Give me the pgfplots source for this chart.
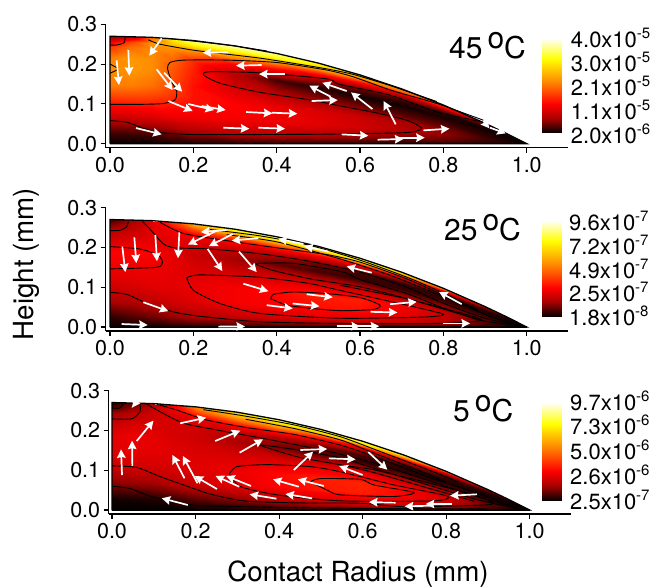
\documentclass[border=0pt]{standalone}
\usepackage{fontspec}
\setmainfont{TeX Gyre Heros}
\usepackage{pgfplots}
\usepackage{pgfplotstable}
\pgfplotsset{compat=1.18}
\usetikzlibrary{arrows.meta}
\pgfplotstableread{
x y a b c
0 0 0 2 0
.05 0 0 2 0
.1 0 0 2 0
.15 0 2 3 0
.2 0 2 4 1
.3 0 2 5 2
.4 0 3 6 4
.5 0 3 6 6
.6 0 3 5 8
.7 0 2 4 6
.8 0 2 3 4
.9 0 1 1 1
1 0 0 0 0
0 .027 8 6 2
.05 .0269 8 10 3
.1 .0267 10 14 4
.15 .0264 14 18 6
.2 .0259 20 22 10
.3 .0246 24 26 16
.4 .0227 24 30 22
.5 .0203 22 32 28
.6 .0173 18 32 32
.7 .0138 14 28 28
.8 .0097 12 22 22
.9 .0051 5 8 8
1 0 0 0 0
0 .0675 28 22 16
.05 .0673 30 24 18
.1 .0668 32 26 20
.15 .066 36 30 24
.2 .0648 36 33 28
.3 .0614 38 38 34
.4 .0567 37 40 40
.5 .0506 34 42 43
.6 .0432 30 42 44
.7 .0344 24 36 40
.8 .0243 18 28 30
.9 .0128 8 10 12
1 0 0 0 0
0 .108 45 30 28
.05 .1077 46 32 30
.1 .1069 46 34 30
.15 .1056 44 34 31
.2 .1037 42 35 33
.3 .0983 40 38 36
.4 .0907 36 41 41
.5 .081 32 44 44
.6 .0691 28 44 45
.7 .0551 22 38 40
.8 .0389 15 28 28
.9 .0205 6 10 10
1 0 0 0 0
0 .1485 58 36 33
.05 .1481 58 36 34
.1 .147 56 36 34
.15 .1451 50 34 33
.2 .1426 42 32 32
.3 .1351 32 30 31
.4 .1247 24 30 32
.5 .1114 18 30 34
.6 .095 14 28 34
.7 .0757 10 24 26
.8 .0535 8 18 16
.9 .0282 4 8 6
1 0 0 0 0
0 .189 60 40 34
.05 .1885 62 40 36
.1 .1871 60 40 34
.15 .1847 52 34 31
.2 .1814 44 28 29
.3 .172 24 20 22
.4 .1588 8 12 14
.5 .1418 4 8 10
.6 .121 2 6 6
.7 .0964 2 6 5
.8 .068 3 6 5
.9 .0359 2 4 3
1 0 0 0 0
0 .216 58 32 28
.05 .2154 62 34 31
.1 .2138 60 35 31
.15 .2111 54 34 31
.2 .2074 46 32 30
.3 .1966 38 28 28
.4 .1814 32 22 22
.5 .162 22 14 14
.6 .1382 12 8 8
.7 .1102 8 6 5
.8 .0778 5 6 5
.9 .041 3 4 3
1 0 0 0 0
0 .243 48 24 20
.05 .2424 56 28 26
.1 .2406 60 34 30
.15 .2375 60 37 32
.2 .2333 60 40 38
.3 .2211 64 46 50
.4 .2041 62 50 54
.5 .1823 52 46 46
.6 .1555 42 38 34
.7 .1239 32 30 24
.8 .0875 22 18 14
.9 .0462 8 8 6
1 0 0 0 0
0 .2565 38 16 10
.05 .2558 50 24 18
.1 .2539 62 33 28
.15 .2507 70 42 38
.2 .2462 76 52 50
.3 .2334 80 66 64
.4 .2155 80 72 72
.5 .1924 72 72 72
.6 .1642 62 70 68
.7 .1308 52 62 56
.8 .0923 40 44 34
.9 .0487 15 14 10
1 0 0 0 0
0 .27 15 8 4
.05 .2693 30 20 12
.1 .2673 55 35 24
.15 .2639 78 48 40
.2 .2592 90 65 60
.3 .2457 95 84 76
.4 .2268 92 92 86
.5 .2025 80 92 90
.6 .1728 70 88 90
.7 .1377 62 80 82
.8 .0972 55 65 65
.9 .0513 15 20 20
1 0 0 0 0
}\grid
\pgfplotstableread{
x y m
0 0 0
1 0 0
0 15 20
1 15 20
0 30 40
1 30 40
0 55 60
1 55 60
0 78 80
1 78 80
0 100 100
1 100 100
}\cbar
\pgfplotstableread{
x y u v
.016 .2094 .0056 -.062
.044 .2353 .0024 -.0645
.124 .2647 -.0296 -.0436
.112 .1868 .0384 -.0519
.13 .1784 .0432 -.0477
.14 .1072 .0584 -.0251
.188 .0997 .0616 -.0151
.22 .0946 .0576 -.01
.3264 .0796 .0632 -.0034
.388 .0779 .0616 -.0025
.272 .0402 .0624 -.0025
.356 .0402 .064 -.0025
.0624 .0394 .0616 -.0159
.284 .2295 -.0616 -.0008
.364 .1977 -.0616 -.0017
.42 .175 -.0624 0
.5296 .1181 -.0512 .0276
.568 .1323 -.0584 .0209
.484 .1072 .0624 .0025
.6296 .0871 -.0512 .0419
.6856 .0486 -.0288 .0586
.556 .0235 .064 -.0034
.6424 .0101 .0616 .0017
.692 .0151 .0632 0
.752 .0335 .0624 .0042
.896 .057 .0144 -.0184
.912 .0402 .0376 -.0142
}\arra
\pgfplotstableread{
x y u v
.0296 .202 .0072 -.064
.0584 .2253 .0048 -.0648
.1088 .2311 .004 -.0657
.1664 .2377 -.0032 -.0648
.2344 .1962 .0352 -.0557
.3096 .1895 .0424 -.0515
.32 .1089 .06 -.0191
.376 .0549 .0624 -.0083
.4384 .059 .064 -.0067
.472 .0823 .0624 -.0075
.08 .0623 .06 -.0224
.028 .0075 .0624 -.0025
.26 .001 .064 .0005
.544 .002 .056 0
.586 .002 .06 0
.256 .2419 -.0688 -.0349
.28 .2436 -.062 -.005
.2944 .2336 -.0568 -.0303
.356 .2236 -.064 -.0067
.464 .2086 -.06 .0125
.524 .1895 -.0576 .0133
.628 .1364 -.06 .0158
.672 .0574 .064 .0058
.6256 .0382 .064 -.0017
.8 .0091 .064 0
.844 .0574 -.0544 .0308
}\arrb
\pgfplotstableread{
x y u v
.024 .0879 -.0024 .0645
.0488 .1106 -.0008 .0637
.0592 .1734 .04 .0511
.1632 .2178 .0624 .0142
.2472 .1734 .06 .026
.3056 .1441 .056 .0335
.1736 .0796 -.0288 .0586
.2048 .067 -.0352 .0687
.2512 .0528 -.0536 .0327
.3048 .0586 -.0568 .0268
.3328 .0603 -.0592 .0251
.3936 .0285 -.064 .0109
.4792 .0293 -.064 .0109
.1816 .0126 -.0624 .0168
.4472 .0586 -.0616 .0184
.5072 .0603 -.0624 .0168
.4352 .1005 .0464 .0461
.4512 .1508 .064 .0025
.5192 .1298 .064 -.0025
.6 .088 -.056 .0226
.6136 .1457 .0456 -.0444
.6792 .0184 -.064 .0017
.7672 .0109 -.0664 -.0017
.8136 .0151 -.0624 0
.8736 .0394 -.064 -.0034
.056 .268 .012 0
}\arrc
\pgfplotsset{
 colormap={hotm}{rgb255=(0,0,0) rgb255=(165,0,0) rgb255=(255,0,0) rgb255=(255,140,0) rgb255=(255,255,0) rgb255=(255,255,255)},
 panel/.style={scale only axis, width=462.3pt, height=123.4pt, anchor=south west,
  xmin=-0.0103, xmax=1.099, ymin=-0.01, ymax=0.3,
  axis lines=left, axis line style={-, line width=1.3pt, black},
  every tick/.style={black, line width=1.1pt}, tick align=outside, major tick length=5pt,
  xtick={0,0.2,0.4,0.6,0.8,1}, ytick={0,0.1,0.2,0.3},
  /pgf/number format/.cd, fixed, fixed zerofill, precision=1, assume math mode=true, /pgfplots/.cd,
  tick label style={font=\fontsize{21.5}{21.5}\selectfont},
  xticklabel style={yshift=-1pt}, yticklabel style={xshift=0pt},
  point meta min=0, point meta max=100, colormap name=hotm},
 field/.style={surf, shader=interp, mesh/cols=13, mesh/rows=10, point meta=\thisrow{#1}},
 cont/.style={black, line width=0.9pt, no marks, smooth, tension=0.4},
 edge/.style={black, line width=1.3pt, no marks},
 arr/.style={white, line width=1.7pt, -{Stealth[length=8.5pt,width=8.5pt,inset=1pt]}, no marks, quiver={u=\thisrow{u},v=\thisrow{v}}},
 bar/.style={scale only axis, hide axis, width=20pt, anchor=south west, xmin=0, xmax=1, ymin=0, ymax=100,
  point meta min=0, point meta max=100, colormap name=hotm},
}
\newcommand{\cbl}[3]{\node[anchor=base west, inner sep=0pt, font=\fontsize{22}{22}\selectfont] at (#1pt,#2pt) {#3};}
\newcommand{\sci}[2]{#1x10\raisebox{8.5pt}{\fontsize{15}{15}\selectfont -#2}}
\newcommand{\ttl}[3]{\node[anchor=base west, inner sep=0pt, font=\fontsize{30}{30}\selectfont] at (#1pt,#2pt) {#3\,\raisebox{10pt}{o}C};}
\newcommand{\outline}{\addplot[edge] coordinates {(0,0) (1,0) (.95,.0264) (.9,.0513) (.8,.0972) (.7,.1377) (.6,.1728) (.5,.2025) (.4,.2268) (.3,.2457) (.2,.2592) (.1,.2673) (0,.27) (0,0)};}
\begin{document}
\begin{tikzpicture}[x=1pt,y=1pt]
\path[use as bounding box] (0,0) rectangle (657,588);
% 45 C
\begin{axis}[panel, at={(105.7pt,440.3pt)}]
\addplot[field=a] table[x=x,y=y] {\grid};
\addplot[cont] coordinates {(0,.058) (.04,.054) (.08,.039) (.12,.028) (.2,.023) (.36,.023) (.52,.024) (.712,.028) (.748,.039) (.712,.059) (.632,.079) (.552,.095) (.48,.11) (.36,.129) (.264,.152) (.224,.173) (.24,.181) (.36,.178) (.52,.163) (.552,.149) (.672,.122) (.784,.08) (.896,.054)};
\addplot[cont] coordinates {(0,.099) (.08,.099) (.128,.101) (.156,.11) (.16,.131) (.148,.156) (.138,.189) (.144,.204) (.176,.21) (.28,.21) (.4,.204) (.52,.185) (.584,.168) (.672,.135) (.784,.101) (.896,.059)};
\addplot[cont] coordinates {(.092,.261) (.12,.25) (.2,.235) (.28,.225) (.36,.215) (.44,.202) (.52,.188) (.584,.174) (.672,.146) (.784,.106)};
\addplot[cont] coordinates {(.134,.265) (.216,.256) (.296,.246) (.376,.233)};
\addplot[cont] coordinates {(0,.248) (.016,.248) (.034,.254) (.036,.268)};
\addplot[cont] coordinates {(0,.2) (.018,.19) (.018,.186) (0,.177)};
\outline
\addplot[arr] table {\arra};
\end{axis}
% 25 C
\begin{axis}[panel, at={(105.7pt,257pt)}]
\addplot[field=b] table[x=x,y=y] {\grid};
\addplot[cont] coordinates {(0,.242) (.024,.243) (.04,.252) (.044,.265)};
\addplot[cont] coordinates {(0,.202) (.072,.196) (.116,.18) (.126,.163) (.112,.15) (0,.146)};
\addplot[cont] coordinates {(.078,.265) (.096,.246) (.128,.209) (.156,.199) (.24,.196) (.36,.184) (.48,.165) (.6,.138) (.712,.1) (.792,.063) (.9,.022) (1,0)};
\addplot[cont] coordinates {(.12,.263) (.176,.235) (.28,.217) (.4,.199) (.52,.182) (.6,.163) (.712,.121) (.808,.076) (.912,.026) (1,0)};
\addplot[cont] coordinates {(.24,.245) (.36,.229) (.48,.205) (.6,.168) (.72,.122) (.8,.085) (.88,.044)};
\addplot[cont] coordinates {(.28,.232) (.4,.214) (.552,.171) (.672,.13) (.792,.08) (.888,.038)};
\addplot[cont] coordinates {(.9,.014) (.8,.045) (.7,.075) (.6,.101) (.48,.121) (.392,.142) (.352,.157) (.36,.16) (.44,.16) (.56,.138) (.6,.119) (.712,.084) (.792,.051) (.888,.017) (1,0)};
\addplot[cont] coordinates {(.184,.124) (.216,.131) (.36,.125) (.48,.109) (.552,.092) (.712,.055) (.8,.032) (.752,.025) (.552,.022) (.36,.034) (.264,.059) (.2,.092) (.184,.124)};
\addplot[cont] coordinates {(.386,.071) (.392,.082) (.44,.088) (.52,.084) (.6,.074) (.648,.055) (.632,.044) (.552,.041) (.48,.047) (.424,.055) (.386,.071)};
\addplot[cont] coordinates {(0,.087) (.04,.082) (.088,.06) (.152,.038) (.216,.027) (.36,.013) (.552,.009) (.792,.009) (.892,.017) (.832,.038) (.712,.071) (.552,.105)};
\outline
\addplot[arr] table {\arrb};
\end{axis}
% 5 C
\begin{axis}[panel, at={(108.7pt,74pt)}, xmin=-0.0079]
\addplot[field=c] table[x=x,y=y] {\grid};
\addplot[cont] coordinates {(0,.229) (.047,.229) (.067,.247) (.067,.268)};
\addplot[cont] coordinates {(0,.256) (.019,.256) (.027,.268)};
\addplot[cont] coordinates {(0,.111) (.059,.107) (.115,.084) (.171,.063) (.235,.04) (.315,.023) (.435,.018) (.595,.017) (.707,.008) (.899,.013) (.907,.021) (.867,.038) (.747,.071) (.627,.101) (.547,.113)};
\addplot[cont] coordinates {(0,.06) (.043,.054) (.091,.035) (.155,.018) (.235,.01) (.595,.004) (.9,.003)};
\addplot[cont] coordinates {(.281,.091) (.299,.109) (.371,.114) (.475,.109) (.547,.096) (.675,.063) (.803,.035) (.771,.023) (.547,.023) (.395,.038) (.307,.059) (.281,.091)};
\addplot[cont] coordinates {(.475,.071) (.499,.079) (.595,.077) (.627,.063) (.723,.044) (.675,.034) (.547,.038) (.515,.05) (.475,.071)};
\addplot[cont] coordinates {(.219,.252) (.307,.238) (.435,.214) (.547,.184) (.627,.153) (.747,.105) (.83,.07)};
\addplot[cont] coordinates {(.32,.228) (.435,.205) (.547,.176) (.627,.143) (.747,.094) (.8,.07)};
\addplot[cont] coordinates {(.107,.266) (.155,.251) (.227,.226) (.323,.207) (.435,.19) (.547,.163) (.627,.135) (.747,.087) (.867,.045) (.971,.004)};
\addplot[cont] coordinates {(.083,.266) (.115,.247) (.171,.218) (.251,.201) (.371,.178) (.515,.148) (.627,.118) (.747,.078) (.867,.036) (.971,.004)};
\addplot[cont] coordinates {(.867,.022) (.747,.058) (.627,.094) (.55,.113) (.45,.132) (.355,.163) (.45,.15) (.55,.13) (.627,.105) (.747,.066) (.867,.028) (.971,.003)};
\outline
\addplot[arr] table {\arrc};
\end{axis}
% colour bars
\begin{axis}[bar, at={(541.7pt,455pt)}, height=95pt]
\addplot[surf, shader=interp, mesh/cols=2, mesh/rows=6, point meta=\thisrow{m}] table[x=x,y=y] {\cbar};
\end{axis}
\begin{axis}[bar, at={(541.7pt,271.3pt)}, height=96.7pt]
\addplot[surf, shader=interp, mesh/cols=2, mesh/rows=6, point meta=\thisrow{m}] table[x=x,y=y] {\cbar};
\end{axis}
\begin{axis}[bar, at={(541.7pt,87pt)}, height=99.3pt]
\addplot[surf, shader=interp, mesh/cols=2, mesh/rows=6, point meta=\thisrow{m}] table[x=x,y=y] {\cbar};
\end{axis}
\cbl{570.7}{540.5}{\sci{4.0}{5}}
\cbl{570.7}{516.5}{\sci{3.0}{5}}
\cbl{570.7}{492.5}{\sci{2.1}{5}}
\cbl{570.7}{468.5}{\sci{1.1}{5}}
\cbl{570.7}{444.5}{\sci{2.0}{6}}
\cbl{569}{357.5}{\sci{9.6}{7}}
\cbl{569}{333.8}{\sci{7.2}{7}}
\cbl{569}{309.8}{\sci{4.9}{7}}
\cbl{569}{286.5}{\sci{2.5}{7}}
\cbl{569}{262.5}{\sci{1.8}{8}}
\cbl{570}{177.8}{\sci{9.7}{6}}
\cbl{570}{153.5}{\sci{7.3}{6}}
\cbl{570}{128.5}{\sci{5.0}{6}}
\cbl{570}{103.5}{\sci{2.6}{6}}
\cbl{570}{78.5}{\sci{2.5}{7}}
\ttl{449}{529}{45}
\ttl{444}{347}{25}
\ttl{453}{166.3}{5}
\node[font=\fontsize{27.7}{27.7}\selectfont, anchor=base] at (358,6) {Contact Radius (mm)};
\node[font=\fontsize{27.7}{27.7}\selectfont, rotate=90, anchor=base] at (33,324) {Height (mm)};
\end{tikzpicture}
\end{document}
